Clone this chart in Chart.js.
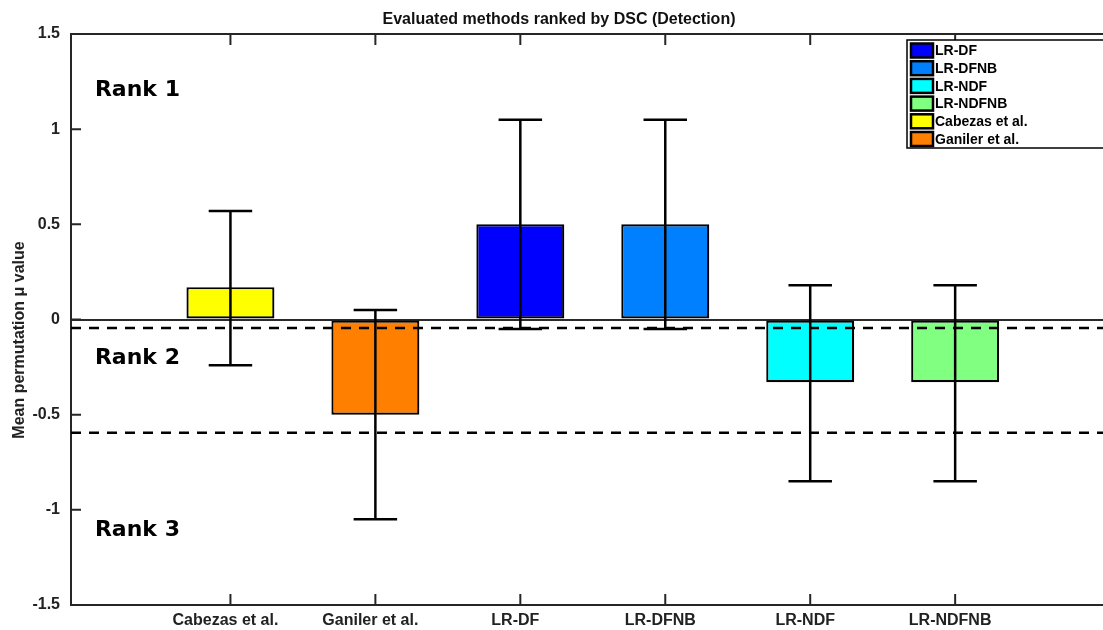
<!DOCTYPE html>
<html>
<head>
<meta charset="utf-8">
<script src="https://cdn.jsdelivr.net/npm/chart.js@4"></script>
<style>
  html, body { margin: 0; padding: 0; background: #fff; overflow: hidden; }
  #wrap { width: 1103px; height: 630px; position: relative; }
</style>
</head>
<body>
<div id="wrap"><canvas id="rank-chart"></canvas></div>
<script>
// values
const methods = ['Cabezas et al.', 'Ganiler et al.', 'LR-DF', 'LR-DFNB', 'LR-NDF', 'LR-NDFNB'];
const meanValues = [0.17, -0.50, 0.50, 0.50, -0.33, -0.33];
const errorLow = [-0.24, -1.05, -0.05, -0.05, -0.85, -0.85];
const errorHigh = [0.57, 0.05, 1.05, 1.05, 0.18, 0.18];
const legendOrder = ['LR-DF', 'LR-DFNB', 'LR-NDF', 'LR-NDFNB', 'Cabezas et al.', 'Ganiler et al.'];
const yTicks = [-1.5, -1, -0.5, 0, 0.5, 1, 1.5];
const rankBounds = [-0.045, -0.595];
const rankNames = ['Rank 1', 'Rank 2', 'Rank 3'];
const rankTextY = [1.205, -0.205, -1.105];

const methodColors = {
  'Cabezas et al.': '#ffff00',
  'Ganiler et al.': '#ff8000',
  'LR-DF': '#0000ff',
  'LR-DFNB': '#0080ff',
  'LR-NDF': '#00ffff',
  'LR-NDFNB': '#80ff80',
};

const axisColor = '#262626';
const sans = '"Liberation Sans", Arial, sans-serif';
const labelFont = { family: sans, size: 16, weight: 'bold' };

// error bars, rank lines, rank text, inward ticks, title, legend
const extras = {
  id: 'extras',
  afterDatasetsDraw(chart) {
    const { ctx, chartArea } = chart;
    const xs = chart.scales.x;
    const ys = chart.scales.y;
    ctx.save();

    // error bars
    ctx.strokeStyle = '#000';
    ctx.lineWidth = 2.5;
    methods.forEach((m, i) => {
      const x = xs.getPixelForValue(i + 1);
      const half = xs.getPixelForValue(i + 1.15) - x;
      const yl = ys.getPixelForValue(errorLow[i]);
      const yh = ys.getPixelForValue(errorHigh[i]);
      ctx.beginPath();
      ctx.moveTo(x, yl); ctx.lineTo(x, yh);
      ctx.moveTo(x - half, yl); ctx.lineTo(x + half, yl);
      ctx.moveTo(x - half, yh); ctx.lineTo(x + half, yh);
      ctx.stroke();
    });

    // rank boundaries
    ctx.setLineDash([10, 8]);
    rankBounds.forEach(v => {
      const y = ys.getPixelForValue(v);
      ctx.beginPath();
      ctx.moveTo(chartArea.left, y);
      ctx.lineTo(chartArea.right, y);
      ctx.stroke();
    });
    ctx.setLineDash([]);

    // rank labels
    ctx.fillStyle = '#000';
    ctx.font = 'bold 22px "DejaVu Sans", sans-serif';
    ctx.textAlign = 'left';
    ctx.textBaseline = 'middle';
    rankNames.forEach((t, i) => {
      ctx.fillText(t, xs.getPixelForValue(0.065), ys.getPixelForValue(rankTextY[i]));
    });

    // inward tick marks
    ctx.strokeStyle = axisColor;
    ctx.lineWidth = 2;
    ctx.beginPath();
    yTicks.forEach(v => {
      const y = ys.getPixelForValue(v);
      ctx.moveTo(chartArea.left, y); ctx.lineTo(chartArea.left + 10, y);
    });
    methods.forEach((m, i) => {
      const x = xs.getPixelForValue(i + 1);
      ctx.moveTo(x, chartArea.bottom); ctx.lineTo(x, chartArea.bottom - 11);
      ctx.moveTo(x, chartArea.top); ctx.lineTo(x, chartArea.top + 11);
    });
    ctx.stroke();

    // title
    ctx.fillStyle = '#111';
    ctx.font = 'bold 16px ' + sans;
    ctx.textAlign = 'center';
    ctx.textBaseline = 'middle';
    ctx.fillText('Evaluated methods ranked by DSC (Detection)', 559, 20);

    // y-axis title
    ctx.save();
    ctx.translate(20, 340);
    ctx.rotate(-Math.PI / 2);
    ctx.fillStyle = '#222';
    ctx.fillText('Mean permutation μ value', 0, 0);
    ctx.restore();

    // legend
    const lx = 907, ly = 40, rowH = 17.7;
    ctx.fillStyle = '#fff';
    ctx.fillRect(lx, ly, 220, 108);
    ctx.strokeStyle = '#000';
    ctx.lineWidth = 1.5;
    ctx.strokeRect(lx, ly, 220, 108);
    ctx.font = 'bold 14px ' + sans;
    ctx.textAlign = 'left';
    legendOrder.forEach((name, i) => {
      const cy = ly + 10.5 + i * rowH;
      ctx.fillStyle = methodColors[name];
      ctx.fillRect(lx + 4, cy - 7, 22, 14);
      ctx.strokeStyle = '#000';
      ctx.lineWidth = 2.5;
      ctx.strokeRect(lx + 4, cy - 7, 22, 14);
      ctx.fillStyle = '#000';
      ctx.fillText(name, lx + 28, cy + 1);
    });

    ctx.restore();
  }
};

const ctx = document.getElementById('rank-chart').getContext('2d');
new Chart(ctx, {
  type: 'bar',
  data: {
    datasets: [{
      label: 'Mean permutation value',
      data: methods.map((m, i) => ({ x: i + 1, y: meanValues[i] })),
      backgroundColor: methods.map(m => methodColors[m]),
      borderColor: '#000',
      borderWidth: 2.2,
      borderSkipped: false,
      categoryPercentage: 1,
      barPercentage: 0.607,
    }],
  },
  options: {
    responsive: true,
    maintainAspectRatio: false,
    animation: false,
    layout: { padding: { top: 34, right: 0, bottom: 0, left: 0 } },
    plugins: {
      legend: { display: false },
      tooltip: { enabled: false },
    },
    scales: {
      x: {
        type: 'linear',
        position: 'bottom',
        offset: false,
        min: -0.1,
        max: 7.02,
        afterBuildTicks: scale => { scale.ticks = methods.map((m, i) => ({ value: i + 1 })); },
        afterFit: scale => { scale.height = 25; },
        grid: { display: false, drawTicks: false, offset: false },
        border: { display: true, color: axisColor, width: 2 },
        ticks: {
          autoSkip: false,
          maxRotation: 0,
          padding: 6,
          labelOffset: -5,
          color: '#222',
          font: labelFont,
          callback: v => methods[v - 1] || '',
        },
      },
      x2: {
        type: 'linear',
        position: 'top',
        offset: false,
        min: -0.1,
        max: 7.02,
        afterFit: scale => { scale.height = 0; },
        grid: { display: false, drawTicks: false, offset: false },
        border: { display: true, color: axisColor, width: 2 },
        ticks: { display: false },
      },
      y: {
        min: -1.5,
        max: 1.5,
        afterBuildTicks: scale => { scale.ticks = yTicks.map(v => ({ value: v })); },
        afterFit: scale => { scale.width = 71; },
        grid: {
          drawTicks: false,
          lineWidth: 2,
          color: c => (c.tick && c.tick.value === 0 ? '#2a2a2a' : 'rgba(0,0,0,0)'),
        },
        border: { display: true, color: axisColor, width: 2 },
        ticks: {
          padding: 11,
          color: '#222',
          font: labelFont,
          callback: v => String(v),
        },
      },
    },
  },
  plugins: [extras],
});
</script>
</body>
</html>
